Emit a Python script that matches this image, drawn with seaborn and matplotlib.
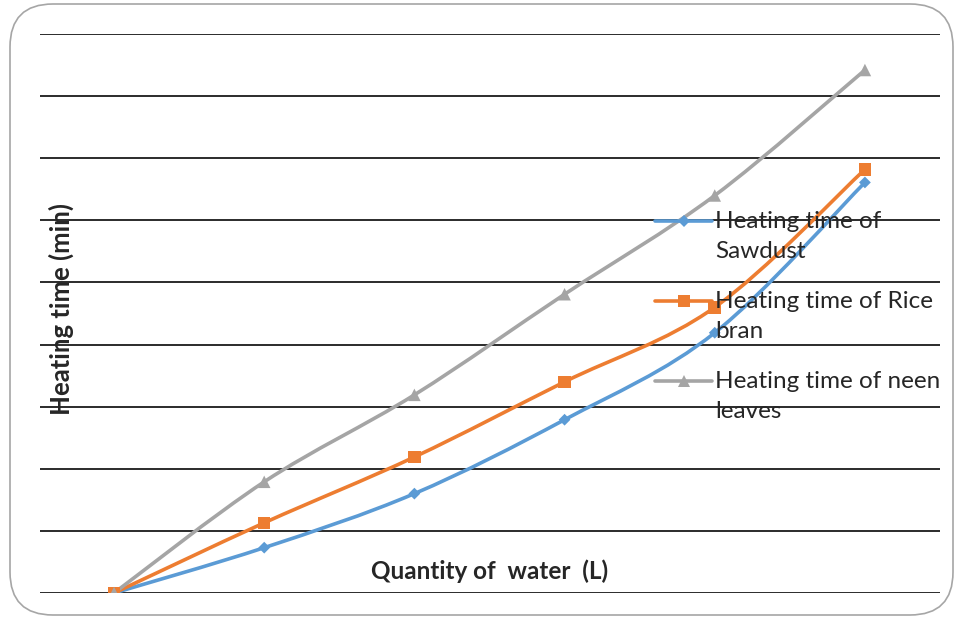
import numpy as np
import pandas as pd
import matplotlib
matplotlib.use("Agg")
import matplotlib.pyplot as plt
from matplotlib.path import Path
from matplotlib.patches import PathPatch, FancyBboxPatch
from matplotlib.lines import Line2D
from matplotlib.legend_handler import HandlerLine2D
import seaborn as sns

# data (no tick labels shown, units are gridline steps)
points = [1, 2, 3, 4, 5, 6]
sawdust = [0.0, 0.73, 1.60, 2.79, 4.19, 6.61]
rice_bran = [0.0, 1.13, 2.19, 3.40, 4.60, 6.82]
neem = [0.0, 1.79, 3.19, 4.81, 6.40, 8.42]

labels = ["Heating time of\nSawdust", "Heating time of Rice\nbran", "Heating time of neen\nleaves"]
colors = ["#5B9BD5", "#ED7D31", "#A5A5A5"]
markers = ["D", "s", "^"]
msizes = [6, 9, 9]

df = pd.DataFrame({"x": points * 3,
                   "y": sawdust + rice_bran + neem,
                   "series": [labels[0]] * 6 + [labels[1]] * 6 + [labels[2]] * 6})

sns.set_style("white")
plt.rcParams["font.family"] = ["Lato", "DejaVu Sans"]

fig = plt.figure(figsize=(9.55, 6.18), dpi=100)
ax = fig.add_axes([40 / 955, 25 / 618, 900 / 955, 559 / 618])


def smooth_path(xs, ys, t=1 / 6):
    # Excel-style smoothed line: cubic Bezier through each point
    xs, ys = np.asarray(xs, float), np.asarray(ys, float)
    verts = [(xs[0], ys[0])]
    codes = [Path.MOVETO]
    n = len(xs)
    for i in range(n - 1):
        p0 = i - 1 if i > 0 else i
        p3 = i + 2 if i + 2 < n else i + 1
        c1 = (xs[i] + (xs[i + 1] - xs[p0]) * t, ys[i] + (ys[i + 1] - ys[p0]) * t)
        c2 = (xs[i + 1] - (xs[p3] - xs[i]) * t, ys[i + 1] - (ys[p3] - ys[i]) * t)
        verts += [c1, c2, (xs[i + 1], ys[i + 1])]
        codes += [Path.CURVE4] * 3
    return Path(verts, codes)


for lab, c in zip(labels, colors):
    sub = df[df.series == lab]
    ax.add_patch(PathPatch(smooth_path(sub.x, sub.y), fill=False, edgecolor=c, lw=2.6, zorder=3))

sns.scatterplot(data=df, x="x", y="y", hue="series", style="series",
                palette=dict(zip(labels, colors)), markers=dict(zip(labels, markers)),
                size="series", sizes=dict(zip(labels, [s ** 2 for s in msizes])),
                linewidth=0, legend=False, ax=ax, zorder=4)

ax.set_xlim(0.507, 6.5)
ax.set_ylim(0, 9)
ax.set_yticks(range(0, 10))
ax.set_xticks([])
ax.set_yticklabels([])
ax.grid(axis="y", color="#1a1a1a", lw=1.3)
ax.tick_params(left=False, bottom=False)
for s in ax.spines.values():
    s.set_visible(False)
ax.set_xlabel("")
ax.set_ylabel("")


class TopLineHandler(HandlerLine2D):
    # put the legend key next to the first line of a two-line label
    def create_artists(self, legend, orig_handle, xdescent, ydescent, width, height, fontsize, trans):
        arts = super().create_artists(legend, orig_handle, xdescent, ydescent, width, height, fontsize, trans)
        for a in arts:
            a.set_ydata(np.asarray(a.get_ydata(), float) + 0.63 * fontsize)
        return arts


leg_fs = 17.5
handles = [Line2D([], [], color=c, lw=2.6, marker=m, markersize=ms, markeredgewidth=0)
           for c, m, ms in zip(colors, markers, msizes)]
leg = fig.legend(handles, labels, loc="upper left", bbox_to_anchor=(655 / 955, 1 - 211 / 618),
                 frameon=False, fontsize=leg_fs, handlelength=2.35, handletextpad=0.12,
                 labelspacing=1.22, borderaxespad=0, borderpad=0,
                 handler_map={Line2D: TopLineHandler()})
for t in leg.get_texts():
    t.set_linespacing(1.5)

fig.text(490 / 955, 1 - 571 / 618, "Quantity of  water  (L)", ha="center", va="center",
         fontsize=17.5, fontweight="bold")
fig.text(61 / 955, 1 - 309 / 618, "Heating time (min)", ha="center", va="center",
         rotation=90, fontsize=18.5, fontweight="bold")

fig.patches.append(FancyBboxPatch((10 / 955, 3 / 618), 943 / 955, 611 / 618,
                                  boxstyle="round,pad=0,rounding_size=0.045",
                                  transform=fig.transFigure, fill=False,
                                  edgecolor="#A6A6A6", lw=1.2, mutation_aspect=955 / 618))

fig.savefig("out.png", dpi=100)
